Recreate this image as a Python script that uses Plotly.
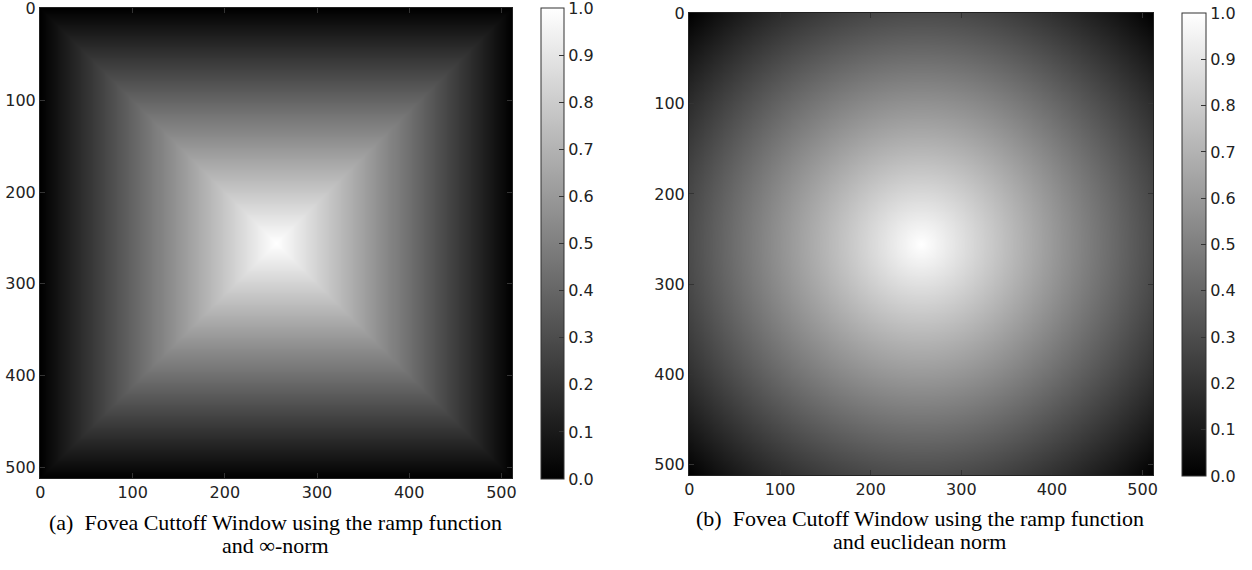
import numpy as np
import plotly.graph_objects as go

# Image parameters (512x512 fovea windows)
size = 512
center = 256.0
tick_vals = [0, 100, 200, 300, 400, 500]
tick_text = ["0", "100", "200", "300", "400", "500"]
cbar_vals = [0.0, 0.1, 0.2, 0.3, 0.4, 0.5, 0.6, 0.7, 0.8, 0.9, 1.0]
cbar_text = ["0.0", "0.1", "0.2", "0.3", "0.4", "0.5", "0.6", "0.7", "0.8", "0.9", "1.0"]
caption_a = ["(a)  Fovea Cuttoff Window using the ramp function", "and ∞-norm"]
caption_b = ["(b)  Fovea Cutoff Window using the ramp function", "and euclidean norm"]

idx = np.arange(size)
dx = np.abs(idx[None, :] - center)
dy = np.abs(idx[:, None] - center)
# ramp function on the infinity norm and on the euclidean norm
z_inf = np.clip(1.0 - np.maximum(dx, dy) / center, 0, 1)
z_euc = np.clip(1.0 - np.sqrt(dx**2 + dy**2) / (center * np.sqrt(2)), 0, 1)

W, H = 1252, 570
def px(x):
    return x / W
def py(y):
    return 1 - y / H

gray = [[0, "black"], [1, "white"]]
tickfont = dict(family="DejaVu Sans", size=16, color="#222")

def cbar(x0, x1, y0, y1):
    return dict(
        x=px(x0), xanchor="left", xref="paper",
        y=py(y1), yanchor="bottom", yref="paper",
        len=(y1 - y0) / H, lenmode="fraction",
        thickness=x1 - x0, thicknessmode="pixels",
        outlinewidth=1, outlinecolor="#333",
        tickmode="array", tickvals=cbar_vals, ticktext=cbar_text,
        ticks="inside", ticklen=5, tickcolor="#333",
        tickfont=tickfont, xpad=0, ypad=0, ticklabeloverflow="allow",
    )

fig = go.Figure()
fig.add_trace(go.Heatmap(z=z_inf, x=idx, y=idx, colorscale=gray, zmin=0, zmax=1,
                         xaxis="x", yaxis="y", colorbar=cbar(541, 564, 8, 479)))
fig.add_trace(go.Heatmap(z=z_euc, x=idx, y=idx, colorscale=gray, zmin=0, zmax=1,
                         xaxis="x2", yaxis="y2", colorbar=cbar(1182, 1206, 13, 476)))

ax_common = dict(tickmode="array", tickvals=tick_vals, ticktext=tick_text,
                 ticks="inside", ticklen=5,
                 tickcolor="#333", showline=True, linecolor="#222", linewidth=1,
                 mirror="ticks", showgrid=False, zeroline=False, tickfont=tickfont,
                 automargin=False, ticklabeloverflow="allow")

capfont = dict(family="Liberation Serif", size=22, color="black")
def cap(text, xc, yc):
    return dict(text=text, x=px(xc), y=py(yc), xref="paper", yref="paper",
                xanchor="center", yanchor="middle", showarrow=False, font=capfont)

fig.update_layout(
    template="none",
    width=W, height=H, margin=dict(l=0, r=0, t=0, b=0, autoexpand=False),
    paper_bgcolor="white", plot_bgcolor="white",
    xaxis=dict(domain=[px(40), px(512)], range=[-0.5, 511.5], anchor="y", **ax_common),
    yaxis=dict(domain=[py(478), py(8)], range=[511.5, -0.5], anchor="x", **ax_common),
    xaxis2=dict(domain=[px(689), px(1153)], range=[-0.5, 511.5], anchor="y2", **ax_common),
    yaxis2=dict(domain=[py(475), py(13)], range=[511.5, -0.5], anchor="x2", **ax_common),
    annotations=[
        cap(caption_a[0], 275, 522), cap(caption_a[1], 275, 545),
        cap(caption_b[0], 920, 518), cap(caption_b[1], 920, 541),
    ],
)

fig.write_html("out.html", config={"displayModeBar": False},
               post_script="document.body.style.margin='0';document.body.style.overflow='hidden';")
